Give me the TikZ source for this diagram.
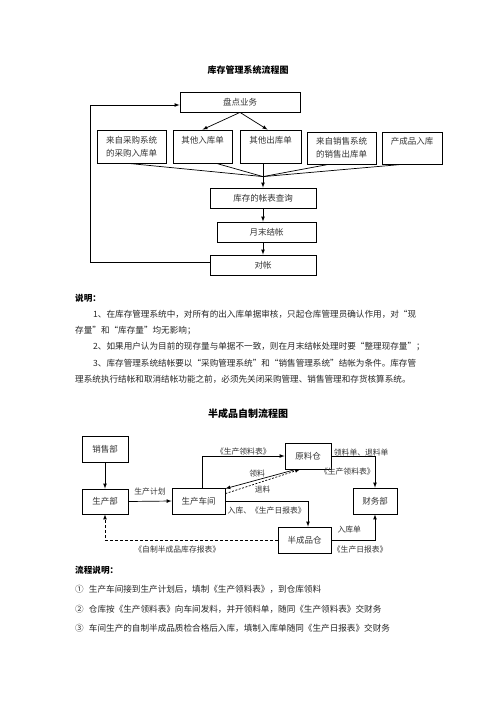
\documentclass[tikz,border=0pt]{standalone}
\usepackage{fontspec}
\setmainfont{Noto Sans CJK SC}
\usetikzlibrary{positioning}
\usetikzlibrary{calc}
\usetikzlibrary{arrows}
\tikzset{
    % Small filled arrow heads
    >=latex,
%
    % Plain box of a flow chart
    flow box/.style={
        draw, line width=0.8pt, inner sep=0pt, align=center,
        text=black!80, font=\fontsize{8.5}{13}\selectfont},
%
    % Connector between boxes
    flow line/.style={line width=0.7pt},
    % Broken connector
    broken line/.style={dash pattern=on 3pt off 2pt},
%
    % Text written along a connector
    flow label/.style={
        inner sep=1pt, text=black!80, font=\fontsize{7.8}{9}\selectfont},
%
    % Headings and running text
    title text/.style={font=\fontsize{9}{11}\selectfont\bfseries},
    body text/.style={
        anchor=west, inner sep=0pt, text=black!85,
        font=\fontsize{8.6}{11}\selectfont}}

\begin{document}
\begin{tikzpicture}[x=1pt, y=-1pt]

% Page frame
\useasboundingbox (0,0) rectangle (496,702);

% Stock management flow

\node [title text] (stock title) at (248,70) {库存管理系统流程图};

\node [flow box, minimum width=120pt, minimum height=20pt] (check) at (240,102) {盘点业务};

\node [flow box, minimum width=69pt, minimum height=33pt] (buy in) at (131.5,146.5)
    {来自采购系统\\的采购入库单};
\node [flow box, minimum width=59pt, minimum height=33pt] (other in) at (202.5,146.5)
    {其他入库单\\\phantom{其他入库单}};
\node [flow box, minimum width=61pt, minimum height=33pt] (other out) at (270.5,146.5)
    {其他出库单\\\phantom{其他出库单}};
\node [flow box, minimum width=69pt, minimum height=32pt] (sale out) at (341.5,148)
    {来自销售系统\\的销售出库单};
\node [flow box, minimum width=60pt, minimum height=32pt] (product in) at (412,148)
    {产成品入库\\\phantom{产成品入库}};

\node [flow box, minimum width=106pt, minimum height=20pt] (query) at (263,198) {库存的帐表查询};
\node [flow box, minimum width=99pt, minimum height=20pt] (month end) at (266.5,232) {月末结帐};
\node [flow box, minimum width=106pt, minimum height=20pt] (reconcile) at (263,265) {对帐};

\coordinate (merge) at ([yshift=11pt]query.north);

\draw [flow line, ->] (check.south) -- (other in.north);
\draw [flow line, ->] (check.south) -- ([xshift=-3pt]other out.north);

\draw [flow line] ([xshift=-3pt]buy in.south) -- (merge);
\draw [flow line] ([xshift=14pt]other in.south) -- (merge);
\draw [flow line] ([xshift=-13pt]sale out.south) -- (merge);
\draw [flow line] ([xshift=-10pt]product in.south) -- (merge);
\draw [flow line, ->] (other out.south -| query.north) -- (query.north);

\draw [flow line, ->] (query.south) -- (query.south |- month end.north);
\draw [flow line, ->] (month end.south -| query.south) -- (query.south |- reconcile.north);
\draw [flow line, ->] ([yshift=3pt]reconcile.west) -- ++(-119,0) |- ([yshift=-3pt]check.west);

% Notes on the stock flow

\node [body text, font=\fontsize{8.6}{11}\selectfont\bfseries, text=black] (note head) at (75,298) {说明：};
\node [body text] (note one) at (93,314)
    {1、在库存管理系统中，对所有的出入库单据审核，只起仓库管理员确认作用，对“现};
\node [body text] (note one b) at (75,331) {存量”和“库存量”均无影响；};
\node [body text] (note two) at (93,347)
    {2、如果用户认为目前的现存量与单据不一致，则在月末结帐处理时要“整理现存量”；};
\node [body text] (note three) at (93,363)
    {3、库存管理系统结帐要以“采购管理系统”和“销售管理系统”结帐为条件。库存管};
\node [body text] (note three b) at (75,379)
    {理系统执行结帐和取消结帐功能之前，必须先关闭采购管理、销售管理和存货核算系统。};

% Semi-finished goods flow

\node [title text, font=\fontsize{10}{12}\selectfont\bfseries] (semi title) at (248,414) {半成品自制流程图};

\node [flow box, minimum width=46pt, minimum height=26pt] (sales) at (105,449) {销售部};
\node [flow box, minimum width=46pt, minimum height=25pt] (production) at (105,501.5) {生产部};
\node [flow box, minimum width=53pt, minimum height=26pt] (workshop) at (198.5,501) {生产车间};
\node [flow box, minimum width=46pt, minimum height=26pt] (material) at (308,456) {原料仓};
\node [flow box, minimum width=44pt, minimum height=26pt] (finance) at (375,501) {财务部};
\node [flow box, minimum width=53pt, minimum height=26pt] (semi) at (304.5,540) {半成品仓};

\draw [flow line, ->] (sales.south) -- (production.north);
\draw [flow line, ->] (production.east) -- (workshop.west)
    node [flow label, midway, above=5pt] {生产计划};
\draw [flow line, ->] ([xshift=3.5pt]workshop.north) |- (material.west)
    node [flow label, pos=0.75, above=-1pt] {《生产领料表》};
\draw [flow line, ->] ([xshift=-12pt]material.south) -- ([yshift=-1pt]workshop.north east)
    node [flow label, pos=0.55, above=1pt] {领料};
\draw [flow line, dash pattern=on 2pt off 1.5pt, ->]
    ([yshift=-6pt]workshop.north east) -- ([xshift=-8pt]material.south)
    node [flow label, pos=0.5, below=3pt] {退料};
\draw [flow line, ->] (material.east) -| (finance.north)
    node [flow label, pos=0.25, above=-1pt, xshift=8pt] {领料单、退料单}
    node [flow label, pos=0.75, left, inner sep=0pt] {《生产领料表》};
\draw [flow line, ->] (workshop.east) -| ([xshift=3.5pt]semi.north)
    node [flow label, pos=0.25, below=5pt] {入库、《生产日报表》};
\draw [flow line, ->] (semi.east) -| (finance.south)
    node [flow label, pos=0.25, above=5pt, xshift=-4pt] {入库单}
    node [flow label, pos=0.25, below=5pt, xshift=7pt] {《生产日报表》};
\draw [flow line, broken line, ->] (semi.west) -| (production.south)
    node [flow label, pos=0.25, below=5pt, xshift=-14pt] {《自制半成品库存报表》};

% Notes on the semi-finished goods flow

\node [body text, font=\fontsize{8.6}{11}\selectfont\bfseries, text=black] (flow head) at (75,570) {流程说明：};
\node [body text] (step one) at (75,589)
    {①\hspace{0.6em}生产车间接到生产计划后，填制《生产领料表》，到仓库领料};
\node [body text] (step two) at (75,609)
    {②\hspace{0.6em}仓库按《生产领料表》向车间发料，并开领料单，随同《生产领料表》交财务};
\node [body text] (step three) at (75,628)
    {③\hspace{0.6em}车间生产的自制半成品质检合格后入库，填制入库单随同《生产日报表》交财务};

\end{tikzpicture}
\end{document}
